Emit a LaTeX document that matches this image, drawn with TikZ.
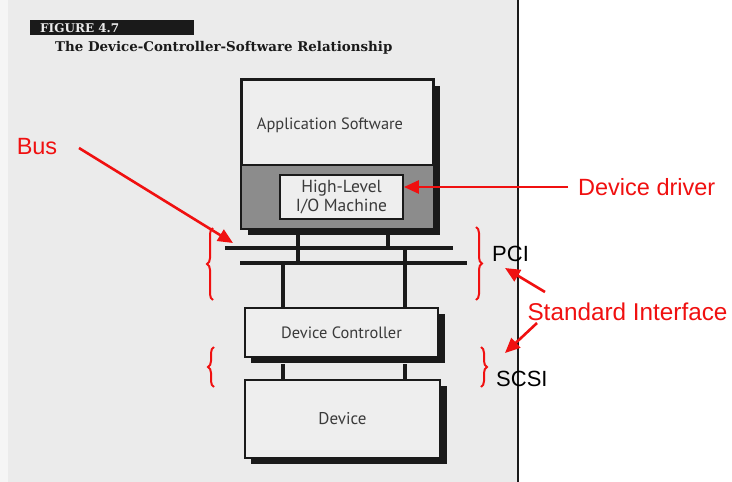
\documentclass[tikz,border=0pt]{standalone}
\usepackage{fontspec}
\setmainfont{Liberation Sans}
\newfontfamily\notefont{Liberation Sans}
\newfontfamily\boxfont{PT Sans}
\newfontfamily\headfont{DejaVu Serif}
\usetikzlibrary{arrows.meta,decorations.pathreplacing}

\definecolor{pagegray}{HTML}{EBEBEB}
\definecolor{pageedge}{HTML}{F5F5F5}
\definecolor{boxlight}{HTML}{EEEEEE}
\definecolor{drivergray}{HTML}{8C8C8C}
\definecolor{ink}{HTML}{1A1A1A}
\definecolor{boxtext}{HTML}{3A3A3A}
\definecolor{annred}{HTML}{F01010}

\tikzset{
  unitbox/.style={draw=ink, line width=2.2pt, fill=boxlight, inner sep=0pt},
  boxshadow/.style={fill=ink},
  boxlabel/.style={font=\boxfont\fontsize{16.4}{18}\selectfont, text=boxtext, align=center},
  wire/.style={draw=ink, line width=3.4pt},
  note/.style={font=\notefont\fontsize{23.5}{26}\selectfont, text=annred, inner sep=0pt},
  busname/.style={font=\notefont\fontsize{22}{24}\selectfont, text=black, inner sep=0pt},
  pointer/.style={draw=annred, line width=2.6pt, -{Triangle[length=15pt,width=13pt]}},
  brace/.style={draw=annred, line width=2pt,
    decorate, decoration={brace, amplitude=6pt}},
}

\begin{document}
\begin{tikzpicture}[x=1pt, y=-1pt]
\useasboundingbox (0,0) rectangle (732,482);

% scanned page and its edge
\fill[white] (0,0) rectangle (732,482);
\fill[pageedge] (0,0) rectangle (8,482);
\fill[pagegray] (8,0) rectangle (517,482);
\draw[ink, line width=2.6pt] (518,0) -- (518,482);

% figure heading
\fill[ink] (30,20) rectangle (194,35);
\node[anchor=west, inner sep=0pt, text=pagegray,
  font=\headfont\bfseries\fontsize{12}{13}\selectfont] (fignum) at (40,28) {FIGURE 4.7};
\node[anchor=west, inner sep=0pt, text=ink,
  font=\headfont\bfseries\fontsize{13.4}{15}\selectfont] (figtitle) at (55,48)
  {The Device-Controller-Software Relationship};

% shadows behind the three boxes
\fill[boxshadow] (248,86) rectangle (440,235);
\fill[boxshadow] (251,314) rectangle (445,363);
\fill[boxshadow] (251,386) rectangle (447,464);

% application software box with the driver layer in its lower part
\node[unitbox, minimum width=191pt, minimum height=148pt] (app) at (337.5,154) {};
\coordinate (splitL) at (242,165);
\coordinate (splitR) at (433,165);
\fill[drivergray] (app.south west) rectangle (splitR);
\draw[ink, line width=1.8pt] (splitL) -- (splitR);
\draw[ink, line width=2.2pt] (app.north west) rectangle (app.south east);
\node[boxlabel] (applbl) at (330,125) {Application Software};
\node[draw=ink, line width=1.8pt, fill=boxlight, minimum width=123pt,
  minimum height=44pt, inner sep=0pt, boxlabel, font=\boxfont\fontsize{17.5}{19.5}\selectfont]
  (hlio) at (341.5,197) {High-Level\\I/O Machine};

% controller and device
\node[unitbox, minimum width=193pt, minimum height=49pt] (ctrl) at (341.5,332.5) {};
\node[boxlabel] at (ctrl) {Device Controller};
\node[unitbox, minimum width=195pt, minimum height=78pt] (dev) at (342.5,419) {};
\node[boxlabel, font=\boxfont\fontsize{17}{19}\selectfont] at (dev) {Device};

% the two bus lines
\coordinate (bus1L) at (225,248);
\coordinate (bus1R) at (453,248);
\coordinate (bus2L) at (240,263);
\coordinate (bus2R) at (467,263);
\draw[wire] (bus1L) -- (bus1R);
\draw[wire] (bus2L) -- (bus2R);

% taps on the bus
\coordinate (xa) at (298,0);
\coordinate (xb) at (388,0);
\coordinate (xc) at (283,0);
\coordinate (xd) at (405,0);
\draw[wire] ([yshift=-6pt]app.south -| xa) -- (xa |- bus2L);
\draw[wire] ([yshift=-6pt]app.south -| xb) -- (xb |- bus1L);
\draw[wire] (xc |- bus2L) -- (ctrl.north -| xc);
\draw[wire] (xd |- bus1L) -- (ctrl.north -| xd);
\draw[wire] ([yshift=-6pt]ctrl.south -| xc) -- (dev.north -| xc);
\draw[wire] ([yshift=-6pt]ctrl.south -| xd) -- (dev.north -| xd);

% braces round the two interfaces
\coordinate (pciLb) at (213,300);
\coordinate (pciLt) at (213,228);
\coordinate (pciRt) at (476,227);
\coordinate (pciRb) at (476,300);
\coordinate (scsiLb) at (214,387);
\coordinate (scsiLt) at (214,347);
\coordinate (scsiRt) at (481,347);
\coordinate (scsiRb) at (481,387);
\draw[brace] (pciLb) -- (pciLt);
\draw[brace] (pciRt) -- (pciRb);
\draw[brace] (scsiLb) -- (scsiLt);
\draw[brace] (scsiRt) -- (scsiRb);

\node[busname, anchor=west] (pci) at (492,254) {PCI};
\node[busname, anchor=west] (scsi) at (496,379) {SCSI};

% annotations
\node[note] (buslbl) at (37,147) {Bus};
\coordinate (busfrom) at (79,148);
\coordinate (busto) at (233,243);
\draw[pointer] (busfrom) -- (busto);

\node[note, anchor=west] (ddlbl) at (578,187) {Device driver};
\coordinate (ddfrom) at (568,187);
\draw[pointer] (ddfrom) -- (hlio.east |- ddfrom);

\node[note, font=\notefont\fontsize{24.3}{26}\selectfont] (stdlbl) at (627.5,312) {Standard Interface};
\coordinate (pcifrom) at (545,292);
\coordinate (pcito) at (505,268);
\coordinate (scsifrom) at (537,323);
\coordinate (scsito) at (505,353);
\draw[pointer] (pcifrom) -- (pcito);
\draw[pointer] (scsifrom) -- (scsito);
\end{tikzpicture}
\end{document}
